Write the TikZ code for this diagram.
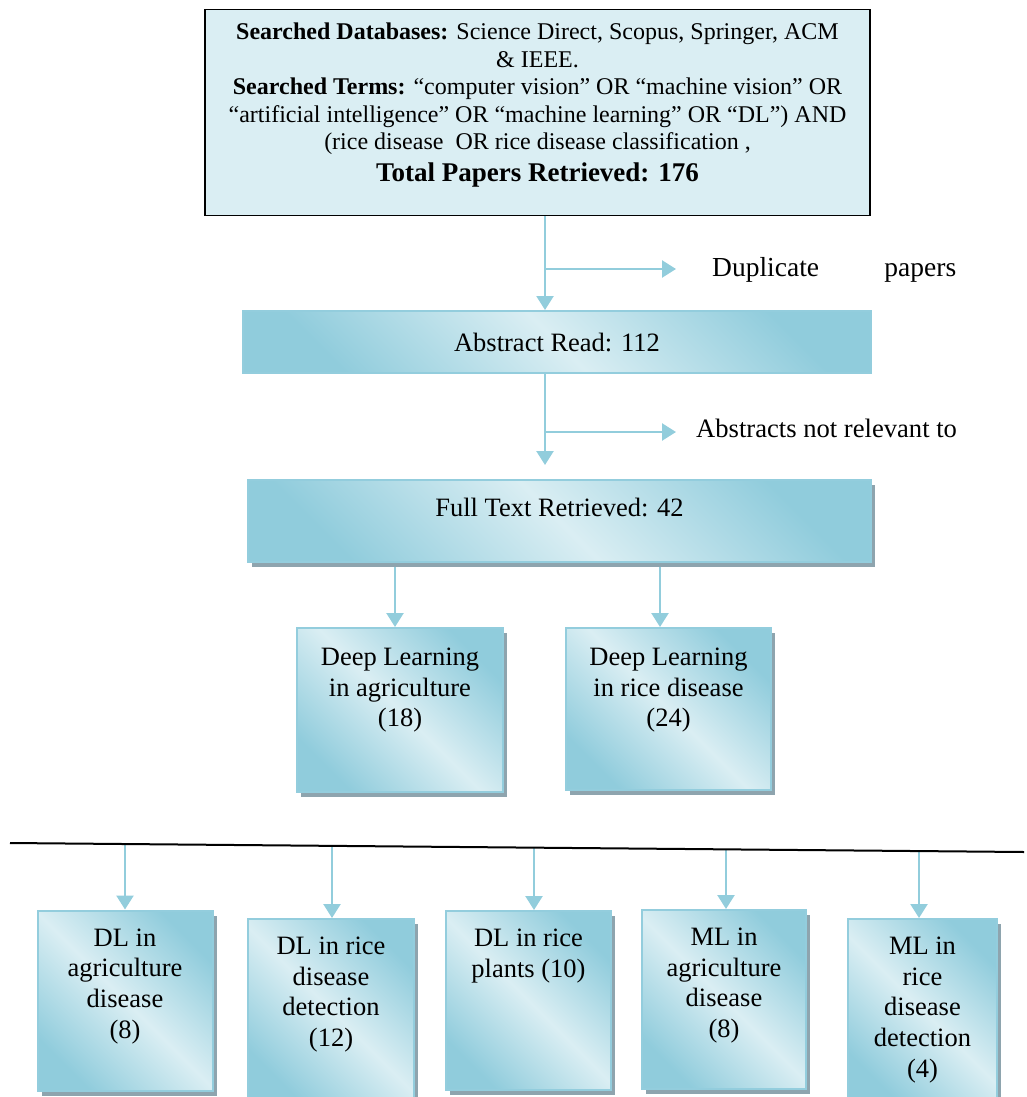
\documentclass[tikz,border=0pt]{standalone}
\usepackage{fontspec}
\setmainfont{Liberation Serif}
\usetikzlibrary{arrows.meta,shadows}
\definecolor{dk}{HTML}{90CCDC}
\definecolor{lt}{HTML}{DAEEF3}
\definecolor{bordc}{HTML}{93CDDD}
\definecolor{shd}{HTML}{8EA4AE}
\definecolor{arrc}{HTML}{92CDDC}
\pgfdeclarelayer{bg}
\pgfsetlayers{bg,main}
\tikzset{
  gbox/.style={draw=bordc, line width=2pt, top color=dk, bottom color=dk, middle color=lt, shading angle=-45, inner sep=0pt},
  sbox/.style={gbox, general shadow={fill=shd, shadow xshift=4pt, shadow yshift=-5pt}},
  topbox/.style={draw=black, line width=1.6pt, fill=lt, inner sep=0pt},
  arr/.style={draw=arrc, line width=2.4pt, -{Triangle[width=17pt,length=14pt]}},
  big/.style={font=\fontsize{26.5}{30.6}\selectfont, align=center, inner sep=0pt},
  small/.style={font=\fontsize{24}{27.6}\selectfont, align=center, inner sep=0pt},
}
\begin{document}
\begin{tikzpicture}[x=1pt,y=-1pt]
\useasboundingbox (0,0) rectangle (1026,1097);
% top box
\node[topbox, minimum width=665pt, minimum height=206pt] (top) at (537.5,112.5) {};
\node[small, anchor=north] (toptxt) at ([yshift=-14pt]top.north) {\textbf{Searched Databases:} Science Direct, Scopus, Springer, ACM\\ \& IEEE.\\ \textbf{Searched Terms:} “computer vision” OR “machine vision” OR\\ “artificial intelligence” OR “machine learning” OR “DL”) AND\\ (rice disease\ \ OR rice disease classification ,\\[4pt] {\fontsize{27}{30}\selectfont\bfseries Total Papers Retrieved: 176}};
% abstract
\node[gbox, big, minimum width=628pt, minimum height=62pt] (ab) at (557,342) {Abstract Read: 112};
% full text
\node[sbox, minimum width=623pt, minimum height=82pt] (ft) at (559.5,521) {};
\node[big, anchor=north] (fttxt) at ([yshift=-19pt]ft.north) {Full Text Retrieved: 42};
% DL boxes
\node[sbox, minimum width=206pt, minimum height=164pt] (dla) at (400,710) {};
\node[big, anchor=north] (dlatxt) at ([yshift=-21pt]dla.north) {Deep Learning\\in agriculture\\(18)};
\node[sbox, minimum width=205pt, minimum height=162pt] (dlr) at (668.5,709) {};
\node[big, anchor=north] (dlrtxt) at ([yshift=-21pt]dlr.north) {Deep Learning\\in rice disease\\(24)};
% side labels
\node[anchor=west, inner sep=0pt, font=\fontsize{27.5}{30}\selectfont] (dup) at (712,270) {\makebox[244pt]{Duplicate\hfill papers}};
\node[anchor=west, inner sep=0pt, font=\fontsize{26.6}{30}\selectfont] (notrel) at (696,428) {Abstracts not relevant to};
% bottom boxes
\node[sbox, minimum width=175pt, minimum height=180pt] (b1) at (125,1000.5) {};
\node[big, anchor=north] (b1t) at ([yshift=-19pt]b1.north) {DL in\\agriculture\\disease\\(8)};
\node[sbox, minimum width=166pt, minimum height=182pt] (b2) at (331,1010) {};
\node[big, anchor=north] (b2t) at ([yshift=-19pt]b2.north) {DL in rice\\disease\\detection\\(12)};
\node[sbox, minimum width=165pt, minimum height=179pt] (b3) at (528.5,1000.5) {};
\node[big, anchor=north] (b3t) at ([yshift=-19pt]b3.north) {DL in rice\\plants (10)};
\node[sbox, minimum width=164pt, minimum height=179pt] (b4) at (724,999.5) {};
\node[big, anchor=north] (b4t) at ([yshift=-19pt]b4.north) {ML in\\agriculture\\disease\\(8)};
\node[sbox, minimum width=149pt, minimum height=182pt] (b5) at (922.5,1010) {};
\node[big, anchor=north] (b5t) at ([yshift=-19pt]b5.north) {ML in\\rice\\disease\\detection\\(4)};
% coordinates
\coordinate (c0) at (545,0);
\coordinate (d0) at (545,269);
\coordinate (d1) at (676,269);
\coordinate (e0) at (545,432);
\coordinate (e1) at (676,432);
\coordinate (c2) at (545,465);
\coordinate (f1) at (395,0);
\coordinate (f2) at (660,0);
\coordinate (L1) at (10,843);
\coordinate (L2) at (1024,852);
\coordinate (h1) at (125,844);
\coordinate (h2) at (332,847);
\coordinate (h3) at (534,848);
\coordinate (h4) at (726,850);
\coordinate (h5) at (919,851);
\begin{pgfonlayer}{bg}
\draw[arr] (c0 |- top.south) -- (c0 |- ab.north);
\draw[arr] (d0) -- (d1);
\draw[arr] (c0 |- ab.south) -- (c2);
\draw[arr] (e0) -- (e1);
\draw[arr] (f1 |- ft.south) -- (f1 |- dla.north);
\draw[arr] (f2 |- ft.south) -- (f2 |- dlr.north);
\draw[arr] (h1) -- (h1 |- b1.north);
\draw[arr] (h2) -- (h2 |- b2.north);
\draw[arr] (h3) -- (h3 |- b3.north);
\draw[arr] (h4) -- (h4 |- b4.north);
\draw[arr] (h5) -- (h5 |- b5.north);
\end{pgfonlayer}
\draw[line width=2pt] (L1) -- (L2);
\end{tikzpicture}
\end{document}
